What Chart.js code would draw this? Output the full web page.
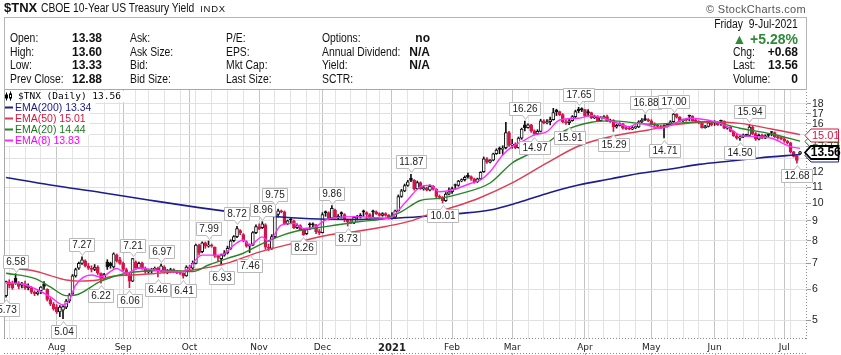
<!DOCTYPE html>
<html>
<head>
<meta charset="utf-8">
<script src="https://cdn.jsdelivr.net/npm/chart.js@4.4.1/dist/chart.umd.min.js"></script>
<style>
html,body{margin:0;padding:0;background:#fff;}
#wrap{position:relative;width:841px;height:355px;overflow:hidden;background:#fff;}
#c{position:absolute;left:0;top:0;}
.h{position:absolute;white-space:nowrap;font-family:"Liberation Sans",Arial,sans-serif;font-size:12px;line-height:14px;color:#111;}
.n{font-family:"Liberation Sans",Arial,sans-serif;font-size:12.5px;transform:scaleX(0.83);transform-origin:left center;}
.nr{transform-origin:right center;}
.v{font-weight:bold;font-size:12px;}
</style>
</head>
<body>
<div id="wrap">
<canvas id="c" width="841" height="355"></canvas>

<div class="h" style="left:4px;top:1px;"><span style="font-weight:bold;font-size:13px">$TNX</span> <span style="font-size:12px;display:inline-block;transform:scaleX(0.86);transform-origin:left center;margin-right:-22px">CBOE 10-Year US Treasury Yield</span> <span style="font-size:9.5px;letter-spacing:0.7px">INDX</span></div>
<div class="h" style="right:35px;top:2px;font-size:11px;color:#555;letter-spacing:0.3px">&copy; StockCharts.com</div>
<div style="position:absolute;left:4px;top:17px;width:801px;height:72px;border:1px solid #b5b5b5;border-bottom:none;"></div>

<div class="h n" style="left:10px;top:31px">Open:</div>
<div class="h n" style="left:10px;top:45px">High:</div>
<div class="h n" style="left:10px;top:58px">Low:</div>
<div class="h n" style="left:10px;top:72px">Prev Close:</div>
<div class="h v" style="left:72px;top:31px">13.38</div>
<div class="h v" style="left:72px;top:45px">13.60</div>
<div class="h v" style="left:72px;top:58px">13.33</div>
<div class="h v" style="left:72px;top:72px">12.88</div>

<div class="h n" style="left:130px;top:31px">Ask:</div>
<div class="h n" style="left:130px;top:45px">Ask Size:</div>
<div class="h n" style="left:130px;top:58px">Bid:</div>
<div class="h n" style="left:130px;top:72px">Bid Size:</div>

<div class="h n" style="left:226px;top:31px">P/E:</div>
<div class="h n" style="left:226px;top:45px">EPS:</div>
<div class="h n" style="left:226px;top:58px">Mkt Cap:</div>
<div class="h n" style="left:226px;top:72px">Last Size:</div>

<div class="h n" style="left:322px;top:31px">Options:</div>
<div class="h n" style="left:322px;top:45px">Annual Dividend:</div>
<div class="h n" style="left:322px;top:58px">Yield:</div>
<div class="h n" style="left:322px;top:72px">SCTR:</div>
<div class="h v" style="right:411px;top:31px">no</div>
<div class="h v" style="right:411px;top:45px">N/A</div>
<div class="h v" style="right:411px;top:58px">N/A</div>

<div class="h n nr" style="right:43px;top:17px">Friday&nbsp;&nbsp;9-Jul-2021</div>
<div class="h" style="right:43px;top:30px;font-size:14px;line-height:18px;font-weight:bold;color:#2f8a3a">&#9650; +5.28%</div>
<div class="h n" style="left:733px;top:45px">Chg:</div>
<div class="h v" style="right:43px;top:45px">+0.68</div>
<div class="h n" style="left:733px;top:58px">Last:</div>
<div class="h v" style="right:43px;top:58px">13.56</div>
<div class="h n" style="left:733px;top:72px">Volume:</div>
<div class="h v" style="right:43px;top:72px">0</div>
</div>

<script>
// ---------- calendar ----------
const FIRST_DAY = '2020-07-10';
const LAST_DAY = '2021-07-09';
const HOLIDAYS = ['2020-09-07','2020-11-26','2020-12-25','2021-01-01','2021-01-18','2021-02-15','2021-04-02','2021-05-31','2021-07-05'];
const MONTH_NAMES = ['Jan','Feb','Mar','Apr','May','Jun','Jul','Aug','Sep','Oct','Nov','Dec'];

// ---------- daily candles ($TNX, x10 yield) ----------
const opens = [
 5.78,6.25,6.20,6.40,6.20,6.15,6.20,6.05,6.05,5.90,5.85,5.95,6.20,6.00,5.65,5.50,
 5.40,5.25,5.30,5.40,5.60,5.85,6.50,6.80,7.00,7.10,6.90,6.80,6.75,6.85,6.60,6.40,7.05,7.00,6.85,7.35,7.15,
 7.00,6.75,6.55,6.30,7.05,6.80,7.00,6.80,6.65,6.70,6.75,6.80,6.70,6.85,6.65,6.70,6.75,6.68,6.62,6.60,6.50,
 6.85,6.80,7.00,7.80,7.50,7.90,7.75,7.80,7.70,7.30,7.20,7.35,7.45,7.65,8.00,8.20,8.50,8.30,7.95,7.75,7.80,8.40,
 8.70,8.65,8.80,7.70,7.65,8.20,9.35,9.55,9.50,8.85,9.10,9.00,8.65,8.75,8.55,8.35,8.85,8.80,8.80,8.45,
 8.40,9.50,9.45,9.15,9.60,9.20,9.45,9.35,9.05,8.95,8.90,9.20,9.20,9.55,9.45,9.35,9.55,9.50,9.40,9.30,9.40,9.30,
 9.15,9.20,9.55,10.40,10.75,11.10,11.60,11.45,10.90,11.30,10.90,10.95,10.80,11.05,10.85,10.40,10.35,10.15,10.55,
 10.70,11.15,11.10,11.40,11.50,11.80,11.70,11.55,11.35,11.55,12.05,13.00,12.75,12.90,13.40,13.85,13.75,13.90,15.20,
 14.10,14.20,13.90,14.70,15.90,15.65,15.90,15.35,15.10,15.30,16.30,16.10,16.20,16.40,17.35,17.20,16.90,16.20,16.10,16.30,16.70,17.45,17.50,
 17.40,17.20,17.10,16.60,16.70,16.30,16.60,16.70,16.25,16.35,15.70,15.85,16.00,15.60,15.55,15.50,15.65,15.70,16.20,16.50,16.40,
 16.30,16.00,15.85,15.75,15.80,15.75,15.95,16.20,16.95,16.65,16.30,16.40,16.80,16.75,16.30,16.25,16.10,15.65,15.75,16.10,
 16.20,16.10,16.30,16.25,15.60,15.70,15.30,14.90,14.70,14.80,14.95,14.95,15.70,15.10,14.60,14.95,14.70,15.05,15.25,15.20,14.80,14.75,
 14.65,14.45,14.30,13.55,13.20,13.38
];
const highs = [
 6.30,6.35,6.30,6.58,6.28,6.25,6.30,6.20,6.10,5.95,5.95,6.10,6.28,6.02,5.70,5.55,
 5.48,5.45,5.45,5.65,5.85,6.55,6.80,7.05,7.27,7.15,7.00,6.90,6.95,6.90,6.62,6.60,7.15,7.05,7.45,7.40,7.25,
 7.05,6.80,6.60,7.21,7.10,7.05,7.05,6.85,6.75,6.80,6.85,6.85,6.97,6.90,6.75,6.80,6.78,6.72,6.70,6.62,6.90,
 6.92,7.10,7.85,7.85,7.95,7.95,7.99,7.85,7.72,7.35,7.40,7.55,7.75,8.05,8.25,8.72,8.55,8.35,8.00,7.85,8.45,8.80,
 8.85,8.96,8.85,7.85,8.30,9.75,9.65,9.60,9.55,9.05,9.15,9.05,8.85,8.80,8.60,8.60,8.90,8.90,8.82,8.55,
 9.45,9.55,9.50,9.86,9.65,9.35,9.50,9.40,9.10,9.10,9.25,9.30,9.40,9.60,9.50,9.40,9.60,9.55,9.45,9.45,9.45,9.35,
 9.45,9.60,10.50,10.85,11.20,11.45,11.87,11.50,11.40,11.35,11.05,11.00,11.15,11.10,10.90,10.50,10.40,10.65,10.95,
 11.00,11.20,11.45,11.55,11.75,11.95,11.75,11.60,11.60,12.05,13.15,13.10,12.95,13.45,13.80,13.95,14.05,16.14,15.30,
 14.60,14.30,14.80,15.60,16.26,16.00,15.95,15.45,15.45,16.45,16.40,16.40,16.65,17.54,17.45,17.25,17.00,16.40,16.50,16.80,17.35,17.65,17.60,
 17.45,17.40,17.15,16.85,16.80,16.70,16.80,16.85,16.45,16.40,15.95,16.10,16.05,15.70,15.70,15.75,15.80,16.30,16.50,16.88,16.50,
 16.40,16.10,15.95,15.85,15.90,16.00,16.30,17.00,17.00,16.70,16.45,16.50,16.85,16.80,16.45,16.30,16.15,15.85,16.20,16.15,
 16.30,16.20,16.35,16.30,15.75,15.75,15.35,15.05,14.90,15.05,15.05,15.94,15.80,15.20,15.05,15.05,15.00,15.10,15.30,15.25,14.90,14.85,
 14.80,14.50,14.35,13.60,13.25,13.60
];
const lows = [
 5.73,6.05,6.00,6.18,6.02,6.05,6.00,5.98,5.85,5.78,5.80,5.85,6.00,5.60,5.45,5.30,
 5.20,5.10,5.04,5.35,5.55,5.80,6.45,6.75,6.95,6.85,6.75,6.65,6.70,6.55,6.22,6.35,6.75,6.80,6.80,7.05,6.95,
 6.70,6.50,6.06,6.28,6.75,6.78,6.75,6.60,6.60,6.62,6.70,6.46,6.65,6.60,6.58,6.62,6.62,6.58,6.55,6.41,6.48,
 6.70,6.75,6.98,7.35,7.45,7.65,7.70,7.70,7.25,7.10,6.93,7.30,7.40,7.60,7.95,8.15,8.30,7.95,7.70,7.46,7.78,8.35,
 8.55,8.60,7.60,7.55,7.60,8.15,9.20,9.45,8.80,8.80,8.85,8.60,8.60,8.50,8.26,8.30,8.55,8.70,8.35,8.30,
 8.38,9.25,9.05,9.10,9.15,9.10,9.15,8.95,8.73,8.85,8.85,9.05,9.15,9.25,9.10,9.15,9.18,9.35,9.25,9.25,9.25,9.10,
 9.10,9.15,9.55,10.35,10.70,11.05,11.35,10.80,10.85,10.85,10.80,10.75,10.75,10.80,10.30,10.25,10.01,10.10,10.50,
 10.60,10.85,11.05,11.35,11.40,11.60,11.45,11.25,11.30,11.50,12.00,12.65,12.70,12.85,13.35,13.40,13.30,13.80,14.00,
 13.85,13.80,13.85,14.60,15.35,15.60,15.20,14.97,15.00,15.25,16.00,16.00,15.90,16.35,16.80,16.80,16.10,15.95,15.91,16.25,16.60,17.10,17.20,
 16.70,16.75,16.50,16.50,16.20,16.25,16.50,16.20,16.15,15.29,15.60,15.80,15.50,15.45,15.45,15.45,15.55,15.65,16.10,16.30,16.20,
 15.90,15.70,15.70,15.55,14.71,15.70,15.90,16.15,16.55,16.20,16.20,16.25,16.30,16.25,16.15,16.00,15.60,15.60,15.70,15.80,
 15.85,15.85,15.85,15.55,15.50,15.25,14.85,14.60,14.50,14.75,14.85,14.90,15.00,14.50,14.55,14.65,14.65,14.80,14.90,14.75,14.60,14.55,
 14.35,14.20,13.45,13.15,12.68,13.33
];
const closes = [
 6.28,6.15,6.05,6.22,6.10,6.20,6.05,6.12,5.90,5.85,5.90,6.08,6.10,5.65,5.50,5.35,
 5.25,5.40,5.42,5.60,5.80,6.50,6.75,7.00,7.15,6.90,6.80,6.75,6.85,6.60,6.40,6.55,6.85,6.90,7.40,7.10,7.00,
 6.75,6.55,6.30,7.20,6.80,7.00,6.80,6.65,6.70,6.75,6.80,6.70,6.90,6.65,6.70,6.75,6.68,6.62,6.60,6.50,6.85,
 6.80,7.00,7.80,7.45,7.90,7.75,7.80,7.75,7.30,7.25,7.35,7.45,7.65,8.00,8.20,8.60,8.40,8.00,7.75,7.80,8.40,8.70,
 8.60,8.85,7.70,7.65,8.20,9.35,9.55,9.50,8.85,9.00,9.05,8.65,8.75,8.55,8.30,8.55,8.80,8.80,8.45,8.40,
 9.35,9.45,9.15,9.70,9.20,9.20,9.40,9.10,8.95,8.90,9.20,9.20,9.30,9.50,9.35,9.20,9.50,9.40,9.30,9.40,9.30,9.15,
 9.20,9.55,10.40,10.75,11.10,11.35,11.45,10.90,11.30,10.90,10.95,10.80,11.05,10.90,10.40,10.35,10.15,10.55,10.70,
 10.90,11.10,11.40,11.50,11.65,11.70,11.55,11.35,11.55,12.00,13.00,12.75,12.90,13.40,13.70,13.75,13.85,15.20,14.10,
 14.20,13.90,14.70,15.50,15.65,15.90,15.35,15.10,15.30,16.30,16.10,16.20,16.40,17.10,17.20,16.90,16.20,16.10,16.30,16.70,17.20,17.30,17.40,
 16.80,17.10,16.60,16.70,16.30,16.60,16.70,16.25,16.35,15.70,15.85,16.00,15.60,15.55,15.50,15.65,15.70,16.20,16.35,16.40,16.30,
 16.00,15.85,15.75,15.65,15.75,15.95,16.20,16.95,16.65,16.30,16.40,16.35,16.75,16.30,16.25,16.10,15.65,15.75,16.10,15.90,
 16.10,15.90,16.25,15.60,15.70,15.30,14.90,14.70,14.80,14.95,14.95,15.70,15.10,14.60,14.95,14.70,14.90,14.95,15.20,14.80,14.75,14.65,
 14.45,14.30,13.55,13.20,12.88,13.56
];

// ---------- moving averages (day index -> value) ----------
const ema200Idx = [0,14,30,45,61,74,87,99,112,124,134,143,153,162,172,181,191,200,210,219,229,238,251];
const ema200Val = [11.64,11.13,10.65,10.19,9.74,9.43,9.21,9.10,9.08,9.16,9.27,9.40,9.60,10.04,10.65,11.13,11.54,11.92,12.24,12.58,12.84,13.07,13.34];
const ema50Idx = [0,9,14,19,23,29,33,40,49,59,70,80,91,102,110,120,128,134,143,150,160,171,181,192,203,211,222,232,242,251];
const ema50Val = [6.81,6.69,6.51,6.34,6.30,6.34,6.47,6.53,6.61,6.73,7.01,7.48,7.89,8.28,8.44,8.71,9.00,9.38,9.86,10.34,11.27,12.69,14.03,14.89,15.43,15.90,16.18,16.04,15.52,15.01];
const ema20Idx = [0,9,14,19,22,30,38,50,59,64,70,75,80,86,91,101,112,120,125,131,137,144,153,160,166,171,176,185,192,204,211,222,232,242,251];
const ema20Val = [6.60,6.40,6.09,5.78,5.80,6.30,6.60,6.71,6.67,6.93,7.21,7.43,7.80,8.19,8.44,8.70,8.97,9.14,9.51,10.16,10.29,10.60,11.27,12.69,13.46,14.26,15.28,16.15,16.28,15.96,16.06,16.21,15.59,15.07,14.44];
const ema8Idx = [0,4,9,14,18,20,22,27,30,35,38,42,49,56,62,68,72,75,77,81,83,87,91,94,98,101,110,121,126,131,134,137,141,147,150,153,157,160,163,167,171,175,181,185,192,197,200,207,216,227,232,237,242,248,251];
const ema8Val = [6.22,6.22,6.03,5.74,5.47,5.63,6.15,6.53,6.46,6.79,6.60,6.81,6.69,6.66,7.35,7.35,7.80,8.04,7.80,8.19,7.96,8.78,8.87,8.61,8.70,9.05,9.23,9.14,9.99,11.02,11.13,10.70,10.81,11.25,11.47,12.05,13.30,13.98,14.40,14.98,15.28,16.37,16.54,16.80,16.21,15.74,16.06,15.59,16.54,15.90,14.98,14.83,14.69,13.98,13.83];

// ---------- pivot callouts ----------
const calloutIdx  = [0,3,18,24,30,39,40,48,49,56,64,68,73,77,81,85,94,103,108,128,138,164,167,178,181,192,202,208,211,232,235,250];
const calloutVal  = [5.73,6.58,5.04,7.27,6.22,6.06,7.21,6.46,6.97,6.41,7.99,6.93,8.72,7.46,8.96,9.75,8.26,9.86,8.73,11.87,10.01,16.26,14.97,15.91,17.65,15.29,16.88,14.71,17.00,14.50,15.94,12.68];
const calloutSide = ['b','a','b','a','b','b','a','b','a','b','a','b','a','b','a','a','b','a','b','a','b','a','b','b','a','b','a','b','a','b','a','b'];

// ---------- axis ticks ----------
const yTicks = [5,6,7,8,9,10,11,12,13,14,15,16,17,18];
const Y_MIN = 4.47, Y_MAX = 19.67;
const X_MIN = -0.657, X_MAX = 253.2;

// ---------- colours ----------
const UP = '#111111', DOWN = '#d0164a';
const C200 = '#1c1c8e', C50 = '#e03a55', C20 = '#2a842a', C8 = '#ff2cff';
const T200 = '#1a1a8a', T50 = '#d8163e', T20 = '#1a7a1a', T8 = '#ff00ff';

// ---------- build calendar ----------
function tradingDays() {
  const out = [];
  const d = new Date(FIRST_DAY + 'T00:00:00Z');
  const end = new Date(LAST_DAY + 'T00:00:00Z');
  while (d <= end) {
    const iso = d.toISOString().slice(0, 10);
    const wd = d.getUTCDay();
    if (wd !== 0 && wd !== 6 && !HOLIDAYS.includes(iso)) out.push(iso);
    d.setUTCDate(d.getUTCDate() + 1);
  }
  return out;
}
const dates = tradingDays();
const dow = s => new Date(s + 'T00:00:00Z').getUTCDay();
const monthStart = new Set(), weekStart = new Set(), monthLabel = new Map();
let janIdx = -1;
for (let i = 1; i < dates.length; i++) {
  if (dates[i].slice(0, 7) !== dates[i - 1].slice(0, 7)) {
    monthStart.add(i);
    const m = +dates[i].slice(5, 7) - 1;
    if (m === 0) { monthLabel.set(i, dates[i].slice(0, 4)); janIdx = i; }
    else monthLabel.set(i, MONTH_NAMES[m]);
  }
  if (dow(dates[i]) < dow(dates[i - 1])) weekStart.add(i);
}
const gridIdx = [...new Set([...monthStart, ...weekStart])].sort((a, b) => a - b);

// ---------- candle styles ----------
const candleColor = closes.map((c, i) => (i === 0 ? c >= opens[0] : c >= closes[i - 1]) ? UP : DOWN);
const candleFill = closes.map((c, i) => c > opens[i] ? '#ffffff' : candleColor[i]);

const wickData = closes.map((c, i) => ({ x: i, y: [lows[i], highs[i]] }));
const bodyData = closes.map((c, i) => ({ x: i, y: [Math.min(opens[i], c), Math.max(opens[i], c)] }));
const line = (idx, val) => idx.map((x, k) => ({ x, y: val[k] }));

const FONT = '"Liberation Sans", Arial, sans-serif';

function callout(ctx, px, py, text, above) {
  ctx.font = '10px ' + FONT;
  const w = Math.round(ctx.measureText(text).width) + 6, h = 13, tail = 4, gap = 2;
  const bx = Math.round(px - w / 2) + 0.5;
  const tx = Math.round(px) + 0.5;
  const by = above ? Math.round(py - gap - tail - h) + 0.5 : Math.round(py + gap + tail) + 0.5;
  ctx.beginPath();
  if (above) {
    ctx.moveTo(bx, by); ctx.lineTo(bx + w, by); ctx.lineTo(bx + w, by + h);
    ctx.lineTo(tx + 3, by + h); ctx.lineTo(tx, by + h + tail); ctx.lineTo(tx - 3, by + h);
    ctx.lineTo(bx, by + h); ctx.closePath();
  } else {
    ctx.moveTo(bx, by); ctx.lineTo(tx - 3, by); ctx.lineTo(tx, by - tail); ctx.lineTo(tx + 3, by);
    ctx.lineTo(bx + w, by); ctx.lineTo(bx + w, by + h); ctx.lineTo(bx, by + h); ctx.closePath();
  }
  ctx.fillStyle = '#ffffff'; ctx.fill();
  ctx.lineWidth = 1; ctx.strokeStyle = '#b9b9b9'; ctx.stroke();
  ctx.fillStyle = '#222'; ctx.textAlign = 'center'; ctx.textBaseline = 'middle';
  ctx.fillText(text, bx + w / 2, by + h / 2 + 0.5);
}

const scPlugin = {
  id: 'stockcharts',
  beforeDraw(chart) {
    const c = chart.ctx; c.save(); c.fillStyle = '#fff'; c.fillRect(0, 0, chart.width, chart.height); c.restore();
  },
  afterDatasetsDraw(chart) {
    const ctx = chart.ctx, a = chart.chartArea, xs = chart.scales.x, ys = chart.scales.y;
    ctx.save();
    // plot frame
    ctx.lineWidth = 1;
    ctx.strokeStyle = '#a8a8a8';
    ctx.beginPath();
    ctx.moveTo(a.left + 0.5, a.bottom); ctx.lineTo(a.left + 0.5, a.top + 0.5); ctx.lineTo(a.right, a.top + 0.5);
    ctx.stroke();
    ctx.setLineDash([1, 2]);
    ctx.strokeStyle = '#8a8a8a';
    ctx.beginPath();
    ctx.moveTo(a.right - 0.5, a.top); ctx.lineTo(a.right - 0.5, a.bottom);
    ctx.moveTo(a.left, a.bottom - 0.5); ctx.lineTo(a.right, a.bottom - 0.5);
    ctx.moveTo(a.left, 353.5); ctx.lineTo(a.right, 353.5);
    ctx.stroke();
    ctx.setLineDash([]);
    ctx.strokeStyle = '#aaa';
    ctx.beginPath();
    monthStart.forEach(i => { const px = Math.round(xs.getPixelForValue(i)) + 0.5; ctx.moveTo(px, 353); ctx.lineTo(px, 355); });
    ctx.stroke();

    // legend
    ctx.textBaseline = 'middle'; ctx.textAlign = 'left';
    const y0 = 96.5;
    ctx.font = '9.5px "DejaVu Sans Mono", monospace';
    const t0 = '$TNX (Daily) ' + closes[closes.length - 1].toFixed(2);
    const w0 = ctx.measureText(t0).width;
    ctx.fillStyle = '#fff'; ctx.fillRect(a.left + 1, y0 - 5.5, w0 + 17, 11);
    ctx.fillStyle = '#000';
    ctx.fillRect(6, y0 - 4, 1, 8); ctx.fillRect(5, y0 - 2, 3, 4);
    ctx.fillRect(10, y0 - 5, 1, 9);
    ctx.fillStyle = '#fff'; ctx.fillRect(10, y0 - 2, 1, 3);
    ctx.strokeStyle = '#000'; ctx.strokeRect(9.5, y0 - 2.5, 2, 4);
    ctx.fillStyle = '#000';
    ctx.fillText(t0, 18, y0 + 0.5);
    const rows = [
      ['EMA(200) ' + ema200Val[ema200Val.length - 1].toFixed(2), C200, T200],
      ['EMA(50) ' + ema50Val[ema50Val.length - 1].toFixed(2), C50, T50],
      ['EMA(20) ' + ema20Val[ema20Val.length - 1].toFixed(2), C20, T20],
      ['EMA(8) ' + ema8Val[ema8Val.length - 1].toFixed(2), C8, T8]
    ];
    ctx.font = '10.5px ' + FONT;
    rows.forEach((r, k) => {
      const cy = 107.5 + k * 11;
      const w = ctx.measureText(r[0]).width;
      ctx.fillStyle = '#fff'; ctx.fillRect(a.left + 1, cy - 5.5, w + 14, 11);
      ctx.fillStyle = r[1]; ctx.fillRect(5, cy - 1, 8, 2);
      ctx.fillStyle = r[2]; ctx.fillText(r[0], 15, cy + 0.5);
    });

    // pivot callouts
    calloutIdx.forEach((i, k) => {
      callout(ctx, xs.getPixelForValue(i), ys.getPixelForValue(calloutVal[k]), calloutVal[k].toFixed(2), calloutSide[k] === 'a');
    });

    // last-value boxes on the right axis
    const box = (v, color, bold) => {
      const py = Math.round(ys.getPixelForValue(v)) + 0.5;
      const x0 = a.right - 2, x1 = a.right + 4, x2 = 838.5, h = 6.5;
      ctx.beginPath();
      ctx.moveTo(x0, py); ctx.lineTo(x1, py - h); ctx.lineTo(x2, py - h); ctx.lineTo(x2, py + h); ctx.lineTo(x1, py + h); ctx.closePath();
      ctx.fillStyle = '#fff'; ctx.fill();
      ctx.lineWidth = bold ? 1.8 : 1; ctx.strokeStyle = color; ctx.stroke();
      ctx.fillStyle = color; ctx.textAlign = 'center'; ctx.textBaseline = 'middle';
      ctx.font = (bold ? 'bold 12px ' : '11px ') + FONT;
      ctx.fillText(v.toFixed(2), (x1 + x2) / 2 + 1, py + 0.5);
    };
    box(ema200Val[ema200Val.length - 1], T200, false);
    box(ema20Val[ema20Val.length - 1], T20, false);
    box(ema50Val[ema50Val.length - 1], T50, false);
    box(closes[closes.length - 1], '#000', true);
    ctx.restore();
  }
};

new Chart(document.getElementById('c'), {
  type: 'bar',
  data: {
    datasets: [
      { type: 'line', label: 'EMA8', data: line(ema8Idx, ema8Val), borderColor: C8, borderWidth: 1.4, pointRadius: 0, cubicInterpolationMode: 'monotone', order: 0 },
      { type: 'line', label: 'EMA20', data: line(ema20Idx, ema20Val), borderColor: C20, borderWidth: 1.4, pointRadius: 0, cubicInterpolationMode: 'monotone', order: 1 },
      { type: 'line', label: 'EMA50', data: line(ema50Idx, ema50Val), borderColor: C50, borderWidth: 1.4, pointRadius: 0, cubicInterpolationMode: 'monotone', order: 2 },
      { type: 'line', label: 'EMA200', data: line(ema200Idx, ema200Val), borderColor: C200, borderWidth: 1.6, pointRadius: 0, cubicInterpolationMode: 'monotone', order: 3 },
      { type: 'bar', label: 'body', data: bodyData, backgroundColor: candleFill, borderColor: candleColor, borderWidth: 1, borderSkipped: false, barThickness: 3, maxBarThickness: 3, minBarLength: 1, grouped: false, order: 5 },
      { type: 'bar', label: 'wick', data: wickData, backgroundColor: candleColor, borderWidth: 0, barThickness: 1, maxBarThickness: 1, grouped: false, order: 6 }
    ]
  },
  options: {
    responsive: false,
    animation: false,
    devicePixelRatio: 1,
    layout: { padding: { top: 89, left: 4, right: 0, bottom: 0 } },
    plugins: { legend: { display: false }, tooltip: { enabled: false } },
    scales: {
      x: {
        type: 'linear', min: X_MIN, max: X_MAX, offset: false,
        afterBuildTicks: s => { s.ticks = gridIdx.map(v => ({ value: v })); },
        afterFit: s => { s.height = 16; },
        grid: { offset: false, drawTicks: false, lineWidth: 1, color: c => (c.tick && monthStart.has(c.tick.value)) ? '#c4c4c4' : '#e3e3e3' },
        border: { display: false },
        ticks: {
          autoSkip: false, maxRotation: 0, minRotation: 0, padding: 3, color: '#222',
          font: c => ({ family: '"DejaVu Sans", sans-serif', size: (c.tick && c.tick.value === janIdx) ? 10 : 9, weight: (c.tick && c.tick.value === janIdx) ? 'bold' : 'normal' }),
          callback: v => monthLabel.get(v) || ''
        }
      },
      y: {
        type: 'logarithmic', position: 'right', min: Y_MIN, max: Y_MAX,
        afterBuildTicks: s => { s.ticks = yTicks.map(v => ({ value: v })); },
        afterFit: s => { s.width = 34; },
        grid: { color: '#e0e0e0', drawTicks: true, tickLength: 4, tickColor: '#9a9a9a' },
        border: { display: false },
        ticks: { autoSkip: false, padding: 1, color: '#222', font: { family: FONT, size: 10.5 }, callback: v => String(v) }
      }
    }
  },
  plugins: [scPlugin]
});
</script>
</body>
</html>
